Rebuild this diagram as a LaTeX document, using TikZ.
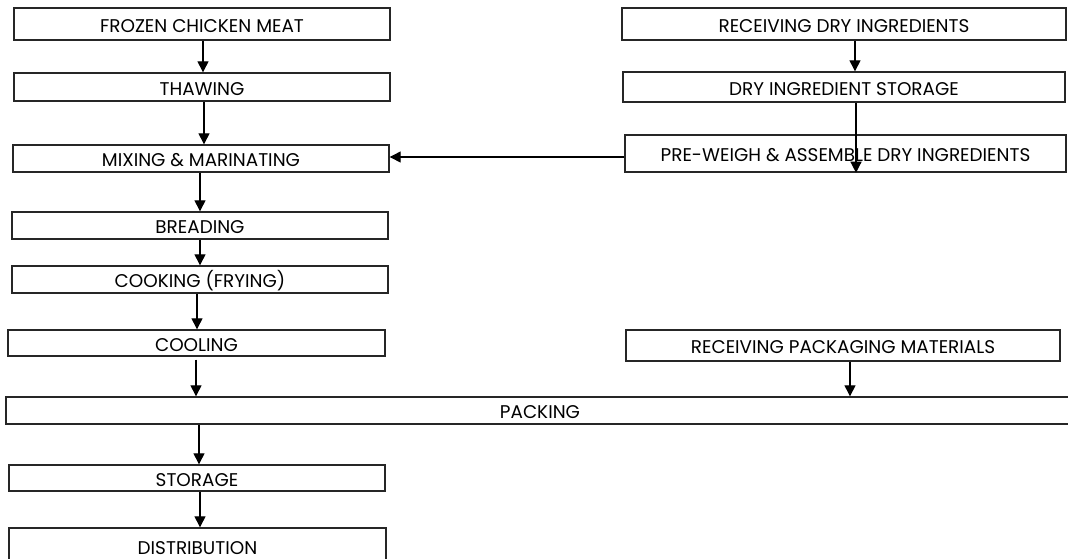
\documentclass[tikz,border=0pt]{standalone}
\usepackage{fontspec}
\setmainfont{Poppins}
\usetikzlibrary{arrows.meta}
\begin{document}
\begin{tikzpicture}[x=1pt,y=-1pt,
  box/.style={draw=black!85,line width=1.4pt,inner sep=0pt,anchor=center,
    text height=16pt,text depth=0pt,
    font=\fontsize{18.4}{20}\selectfont},
  arr/.style={draw=black,line width=1.3pt,-{Triangle[width=11pt,length=11pt]}}]
\clip (0,0) rectangle (1068,558);
\fill[white] (0,0) rectangle (1068,558);
% left column
\node[box,minimum width=376pt,minimum height=32pt] (frozen) at (202,24) {FROZEN CHICKEN MEAT};
\node[box,minimum width=376pt,minimum height=28pt] (thaw) at (202,87) {THAWING};
\node[box,minimum width=376pt,minimum height=27pt] (mix) at (201,158.5) {MIXING \& MARINATING};
\node[box,minimum width=376pt,minimum height=27pt] (bread) at (200,225.5) {BREADING};
\node[box,minimum width=376pt,minimum height=27pt] (cook) at (200,279.5) {COOKING (FRYING)};
\node[box,minimum width=377pt,minimum height=26pt] (cool) at (196.5,343) {COOLING};
\node[box,minimum width=1068pt,minimum height=27pt] (pack) at (540,410.5) {PACKING};
\node[box,minimum width=376pt,minimum height=26pt] (stor) at (197,478) {STORAGE};
\node[box,minimum width=377pt,minimum height=36pt] (dist) at (197.5,546) {DISTRIBUTION};
% right column
\node[box,minimum width=444pt,minimum height=32pt] (recdry) at (844,24) {RECEIVING DRY INGREDIENTS};
\node[box,minimum width=442pt,minimum height=30pt] (drystor) at (844,87) {DRY INGREDIENT STORAGE};
\node[box,minimum width=441pt,minimum height=37pt] (prew) at (845.5,153.5) {PRE-WEIGH \& ASSEMBLE DRY INGREDIENTS};
\node[box,minimum width=434pt,minimum height=31pt] (recpack) at (843,345.5) {RECEIVING PACKAGING MATERIALS};
% arrows
\draw[arr] (frozen.south -| 203,0) -- (thaw.north -| 203,0);
\draw[arr] (thaw.south -| 204,0) -- (mix.north -| 204,0);
\draw[arr] (mix.south -| 200,0) -- (bread.north -| 200,0);
\draw[arr] (bread.south -| 200,0) -- (cook.north -| 200,0);
\draw[arr] (cook.south -| 197,0) -- (cool.north -| 197,0);
\draw[arr] ([yshift=-3pt]cool.south -| 196,0) -- (pack.north -| 196,0);
\draw[arr] (pack.south -| 199,0) -- (stor.north -| 199,0);
\draw[arr] (stor.south -| 200,0) -- (dist.north -| 200,0);
\draw[arr] (recdry.south -| 855,0) -- (drystor.north -| 855,0);
\draw[arr] (drystor.south -| 856,0) -- (prew.south -| 856,0);
\draw[arr] (prew.west |- 0,157) -- (mix.east |- 0,157);
\draw[arr] (recpack.south -| 850,0) -- (pack.north -| 850,0);
\end{tikzpicture}
\end{document}
